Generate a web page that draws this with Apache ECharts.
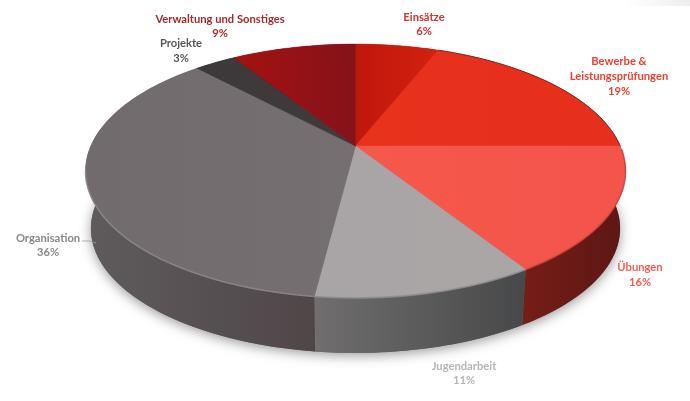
<!DOCTYPE html>
<html><head><meta charset="utf-8">
<style>html,body{margin:0;padding:0;background:#fff}#c{width:690px;height:401px;filter:blur(0.4px)}</style>
<script src="https://cdn.jsdelivr.net/npm/echarts@6/dist/echarts.min.js"></script>
</head><body><div id="c"></div>
<script>
// Data
const categories = ['Einsätze','Bewerbe &\nLeistungsprüfungen','Übungen','Jugendarbeit','Organisation','Projekte','Verwaltung und Sonstiges'];
const shares = [6,19,16,11,36,3,9];

// Style
const topColors = [['#c0170c','#d2210f'],['#e8321c','#e62f1c'],['#f6584b','#f4544a'],['#a9a5a6','#aaa6a6'],['#716b6e','#766f71'],['#3d393b','#3f3b3d'],['#a41210','#85121a']];
const wallColors = [['#7a1b14','#5a1410'],['#7a1b14','#4a1210'],['#761d17','#5c1715'],['#706e6e','#474849'],['#5f5b5d','#4f4648'],['#333','#333'],['#5a1010','#5a1010']];
const textColors = ['#d2322c','#f0402f','#fb5a50','#b7b4b4','#8b8789','#58585a','#a8282c'];
const labelAnchors = [[424,24.5],[619,76.5],[640,275],[464,373.5],[48,245.5],[181,51],[220,26.5]];
const edgeColors = ['#a81c10','#8a2a1e','#c4463a','#8e8a8b','#8e898b','#333','#7a1015'];

// Projected disc geometry
const disc = {cx:355.5, cy:146, a:264.7, b:122, k:0.197, wallCy:204, wallScale:0.98};
const total = shares.reduce((s,v)=>s+v,0);
const starts = []; shares.reduce((s,v,i)=>(starts[i]=s, s+v),0);
function pt(frac, wall){
  const t = frac*2*Math.PI, X = Math.sin(t), Y = -Math.cos(t), w = 1 - disc.k*Y;
  const s = wall ? disc.wallScale : 1;
  return [disc.cx + s*disc.a*X/w, (wall?disc.wallCy:disc.cy) + s*disc.b*Y/w];
}
function arc(i, wall){
  const a = starts[i]/total, b = (starts[i]+shares[i])/total, out = [];
  const n = Math.max(4, Math.ceil((b-a)*240));
  for(let j=0;j<=n;j++) out.push(pt(a+(b-a)*j/n, wall));
  return out;
}
function grad(c, x0, x1){
  return {type:'linear', global:true, x:x0, y:0, x2:x1, y2:0,
    colorStops:[{offset:0,color:c[0]},{offset:1,color:c[1]}]};
}
function renderWall(params, api){
  const i = params.dataIndex;
  const top = arc(i,false), bot = arc(i,true);
  const xs = top.concat(bot).map(p=>p[0]);
  const children = [];
  if(i===0){
    const ring=[]; for(let j=0;j<=240;j++) ring.push(pt(j/240,true));
    children.push({type:'polygon',shape:{points:ring},style:{fill:'#666',shadowBlur:12,shadowOffsetY:3,shadowColor:'rgba(0,0,0,0.38)'}});
  }
  children.push({type:'polygon',shape:{points:top.concat(bot.slice().reverse())},
    style:{fill:grad(wallColors[i],Math.min(...xs),Math.max(...xs))}});
  return {type:'group',children};
}
function renderTop(params, api){
  const i = params.dataIndex;
  const a = arc(i,false);
  const xs = a.map(p=>p[0]).concat(disc.cx);
  // rim only where the top edge meets a visible wall
  const rim = a.filter((p,j)=>{
    const f = (starts[i]+shares[i]*j/(a.length-1))/total;
    return f>0.25 && f<0.72;
  });
  const children = [{type:'polygon',shape:{points:[[disc.cx,disc.cy]].concat(a)},
    style:{fill:grad(topColors[i],Math.min(...xs),Math.max(...xs)),stroke:topColors[i][1],lineWidth:0.5}}];
  if(rim.length>1) children.push({type:'polyline',shape:{points:rim},
    style:{fill:'none',stroke:edgeColors[i],lineWidth:1.6,opacity:0.8}});
  if(categories[i].indexOf('Bewerbe')===0) children.push({type:'polyline',shape:{points:a},
    style:{fill:'none',stroke:edgeColors[i],lineWidth:1}});
  return {type:'group',children};
}
function renderLabel(params, api){
  const i = params.dataIndex, p = labelAnchors[i];
  const children = [{type:'text',style:{x:p[0],y:p[1],text:categories[i]+'\n'+api.value(0)+'%',
    fill:textColors[i],font:'bold 11.2px Lato, "Noto Sans", sans-serif',lineHeight:14.7,align:'center',verticalAlign:'middle'}}];
  if(categories[i]==='Organisation'){
    children.push({type:'polyline',shape:{points:[[82,241],[90,241],[96,243]]},style:{fill:'none',stroke:'#9a9a9a',lineWidth:0.8}});
  }
  return {type:'group',children};
}
const chart = echarts.init(document.getElementById('c'),null,{renderer:'canvas'});
chart.setOption({
  animation:false,
  backgroundColor:'#fff',
  graphic:[{type:'rect',shape:{x:625,y:0,width:65,height:6},silent:true,z:0,
    style:{fill:{type:'linear',x:0,y:0,x2:1,y2:0,colorStops:[{offset:0,color:'#fff'},{offset:1,color:'#eeeeee'}]}}}],
  series:[
    {type:'custom',coordinateSystem:'none',data:shares,renderItem:renderWall,silent:true,z:1},
    {type:'custom',coordinateSystem:'none',data:shares,renderItem:renderTop,silent:true,z:2},
    {type:'custom',coordinateSystem:'none',data:shares,renderItem:renderLabel,silent:true,z:3}
  ]
});
</script></body></html>
